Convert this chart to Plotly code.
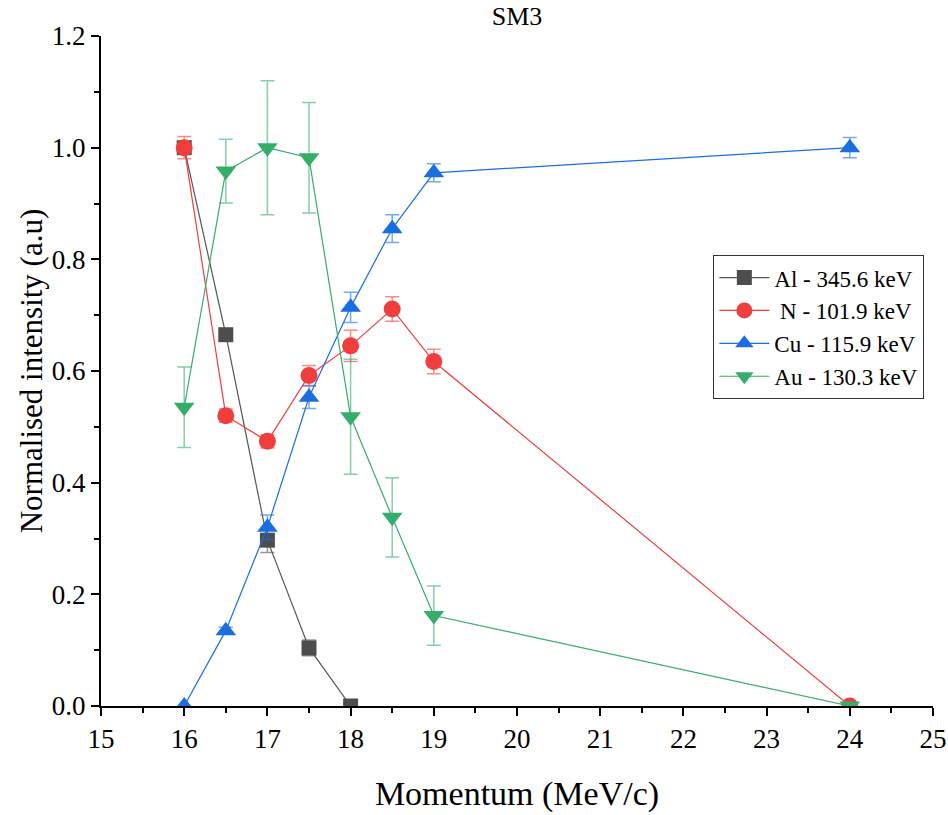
import plotly.graph_objects as go

al_x = [16, 16.5, 17, 17.5, 18]
al_y = [1.0, 0.665, 0.297, 0.104, 0.0]
al_e = [0.01, 0.01, 0.022, 0.014, 0.0]

n_x = [16, 16.5, 17, 17.5, 18, 18.5, 19, 24]
n_y = [1.0, 0.52, 0.474, 0.592, 0.645, 0.711, 0.617, 0.0]
n_e = [0.02, 0.012, 0.012, 0.018, 0.028, 0.022, 0.022, 0.0]

cu_x = [16, 16.5, 17, 17.5, 18, 18.5, 19, 24]
cu_y = [0.0, 0.135, 0.32, 0.553, 0.714, 0.855, 0.955, 1.0]
cu_e = [0.0, 0.006, 0.022, 0.02, 0.027, 0.025, 0.016, 0.018]

au_x = [16, 16.5, 17, 17.5, 18, 18.5, 19, 24]
au_y = [0.535, 0.958, 1.0, 0.982, 0.518, 0.338, 0.162, 0.0]
au_e = [0.072, 0.057, 0.12, 0.099, 0.103, 0.071, 0.053, 0.0]

series = [
    ("Al - 345.6 keV", al_x, al_y, al_e, "#4d4d4d", "#555555", "rgba(80,80,80,0.6)", "square", 15),
    (" N - 101.9 keV", n_x, n_y, n_e, "#f03e3e", "#f03e3e", "rgba(240,62,62,0.6)", "circle", 17),
    ("Cu - 115.9 keV", cu_x, cu_y, cu_e, "#1a6ee0", "#1a6ee0", "rgba(26,110,224,0.6)", "triangle-up", 18),
    ("Au - 130.3 keV", au_x, au_y, au_e, "#36ad6a", "#36ad6a", "rgba(54,173,106,0.6)", "triangle-down", 18),
]

fig = go.Figure()
for name, x, y, e, mc, lc, ec, sym, sz in series:
    fig.add_trace(go.Scatter(
        x=x, y=y, name=name, mode="lines+markers",
        line=dict(color=lc, width=1.2),
        marker=dict(symbol=sym, size=sz, color=mc, line=dict(width=0)),
        error_y=dict(type="data", array=e, visible=True, color=ec, thickness=1.5, width=7),
    ))

font_family = "Liberation Serif, Times New Roman, serif"
fig.update_layout(
    width=948, height=815,
    margin=dict(l=101, r=15, t=36, b=109),
    plot_bgcolor="white", paper_bgcolor="white",
    font=dict(family=font_family, color="black"),
    title=dict(text="SM3", x=0.5, xref="paper", y=0.981, yanchor="middle",
               font=dict(size=26, family=font_family, color="black")),
    showlegend=True,
    legend=dict(x=0.736, y=0.673, xanchor="left", yanchor="top",
                bordercolor="#333333", borderwidth=1, bgcolor="white",
                font=dict(size=23, family=font_family), tracegroupgap=0,
                itemwidth=50),
)
fig.update_xaxes(
    range=[15, 25], dtick=1, tick0=15, showgrid=False, zeroline=False,
    showline=True, linecolor="black", linewidth=2, automargin=False,
    ticks="outside", ticklen=8, tickwidth=2, tickcolor="black",
    tickfont=dict(size=27, family=font_family),
    minor=dict(ticks="outside", ticklen=5, tickwidth=2, dtick=0.5, tickcolor="black", showgrid=False),
    title=dict(text="Momentum (MeV/c)", font=dict(size=34, family=font_family), standoff=28),
)
fig.update_yaxes(
    range=[0, 1.2], dtick=0.2, tick0=0, tickformat=".1f", showgrid=False, zeroline=False,
    showline=True, linecolor="black", linewidth=2, automargin=False,
    ticks="outside", ticklen=8, tickwidth=2, tickcolor="black",
    tickfont=dict(size=27, family=font_family),
    minor=dict(ticks="outside", ticklen=5, tickwidth=2, dtick=0.1, tickcolor="black", showgrid=False),
    title=dict(text="Normalised intensity (a.u)", font=dict(size=31, family=font_family), standoff=0),
)
fig.write_html("out.html")
